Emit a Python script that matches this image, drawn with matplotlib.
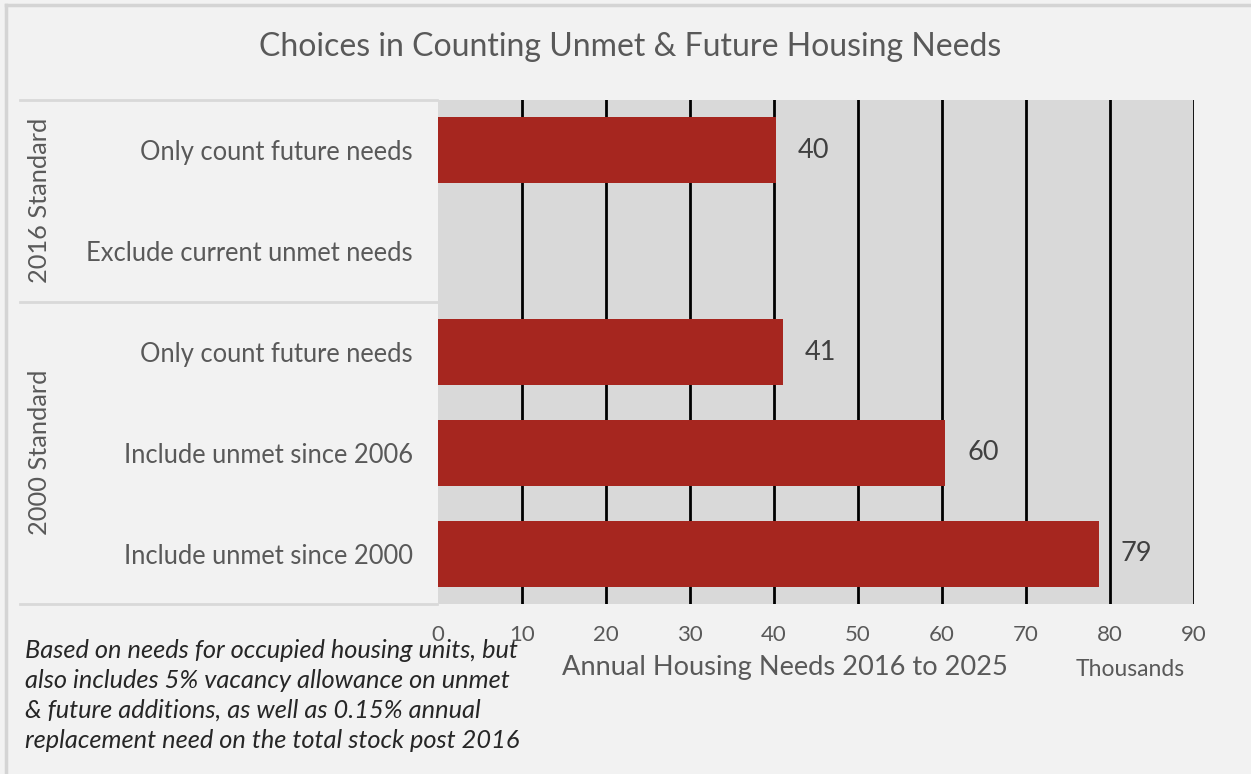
import matplotlib.pyplot as plt
import numpy as np
from matplotlib.lines import Line2D

plt.rcParams["font.family"] = ["Lato", "DejaVu Sans"]

# Data
categories = [
    "Only count future needs",
    "Exclude current unmet needs",
    "Only count future needs",
    "Include unmet since 2006",
    "Include unmet since 2000",
]
values = [40.2, np.nan, 41.1, 60.4, 78.7]
value_labels = ["40", "", "41", "60", "79"]
groups = ["2016 Standard", "2000 Standard"]
group_sizes = [2, 3]
x_ticks = list(range(0, 100, 10))

# Style
W, H = 1251, 774
bg = "#f2f2f2"
plot_bg = "#d9d9d9"
bar_clr = "#a6261f"
txt_clr = "#595959"

fig = plt.figure(figsize=(W / 100, H / 100), dpi=100, facecolor=bg)


def fx(px):
    return px / W


def fy(py):
    return 1 - py / H


# outer border (left and top only visible)
fig.add_artist(Line2D([fx(6), fx(6)], [fy(5), 0], color="#d4d4d4", lw=2.5))
fig.add_artist(Line2D([fx(6), 1], [fy(5), fy(5)], color="#d4d4d4", lw=2.5))

left, right, top, bottom = 438, 1194, 100, 604
ax = fig.add_axes([fx(left), fy(bottom), fx(right - left), (bottom - top) / H])
ax.set_facecolor(plot_bg)

y = np.arange(len(categories))
ax.barh(y, values, height=0.655, color=bar_clr, zorder=3)
for yi, v, lab in zip(y, values, value_labels):
    if lab:
        ax.text(v + 2.6, yi, lab, va="center", ha="left", fontsize=19.5, color="#404040", zorder=4)

ax.set_xlim(0, 90)
ax.set_ylim(len(categories) - 0.5, -0.5)
ax.set_xticks(x_ticks)
ax.set_xticklabels([str(t) for t in x_ticks], fontsize=16, color=txt_clr)
ax.set_yticks(y)
ax.set_yticklabels(categories, fontsize=18.4, color=txt_clr)
ax.tick_params(axis="x", length=0, pad=15)
ax.tick_params(axis="y", length=0, pad=18)
ax.xaxis.grid(True, color="black", lw=2, zorder=2)
ax.xaxis.get_gridlines()[0].set_visible(False)
ax.set_axisbelow(True)
for s in ax.spines.values():
    s.set_visible(False)

# group separators and labels on the left
row_h = (bottom - top) / len(categories)
fig.add_artist(Line2D([fx(20), fx(437)], [fy(top), fy(top)], color=plot_bg, lw=2))
pos = top
for g, n in zip(groups, group_sizes):
    start = pos
    pos += n * row_h
    fig.add_artist(Line2D([fx(20), fx(437)], [fy(pos), fy(pos)], color=plot_bg, lw=2))
    fig.text(fx(40), fy((start + pos) / 2), g, rotation=90, ha="center", va="center",
             fontsize=18.3, color=txt_clr)

# titles and labels
fig.text(fx(630), fy(47), "Choices in Counting Unmet & Future Housing Needs",
         ha="center", va="center", fontsize=23, color=txt_clr)
fig.text(fx(785), fy(668), "Annual Housing Needs 2016 to 2025",
         ha="center", va="center", fontsize=19.6, color=txt_clr)
fig.text(fx(1130), fy(670), "Thousands", ha="center", va="center", fontsize=16.5, color=txt_clr)

note = ("Based on needs for occupied housing units, but\n"
        "also includes 5% vacancy allowance on unmet\n"
        "& future additions, as well as 0.15% annual\n"
        "replacement need on the total stock post 2016")
fig.text(fx(25), fy(639), note, ha="left", va="top", fontsize=18.3, style="italic",
         color="#262626", linespacing=1.36)

fig.savefig("out.png", dpi=100, facecolor=bg)
